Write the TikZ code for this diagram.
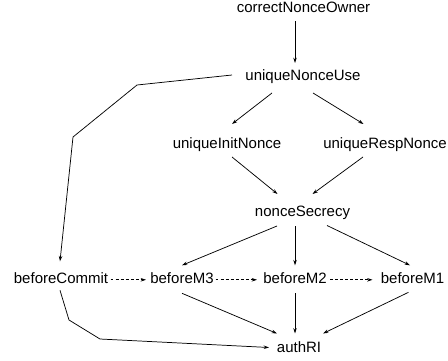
\documentclass[tikz,border=0pt]{standalone}
\usepackage{fontspec}
\setmainfont{Liberation Sans}
\usetikzlibrary{arrows.meta,calc}
\begin{document}
\begin{tikzpicture}[x=0.75pt,y=-0.75pt,
  lbl/.style={anchor=base,inner sep=0pt,font=\fontsize{11.25}{13}\selectfont},
  edge/.style={line width=0.55pt,-{Stealth[length=4pt,width=2.6pt]}},
  dedge/.style={edge,dash pattern=on 2.2pt off 1.6pt}]
\useasboundingbox (0,0) rectangle (448,360);
\node[lbl] (cno) at (303.5,12.7) {correctNonceOwner};
\node[lbl] (unu) at (303,80) {uniqueNonceUse};
\node[lbl] (uin) at (227,148) {uniqueInitNonce};
\node[lbl] (urn) at (385,148) {uniqueRespNonce};
\node[lbl] (nss) at (302.5,216) {nonceSecrecy};
\node[lbl] (bc) at (61,283.3) {beforeCommit};
\node[lbl] (b3) at (182,283.3) {beforeM3};
\node[lbl] (b2) at (295,283.3) {beforeM2};
\node[lbl] (b1) at (412.5,283.3) {beforeM1};
\node[lbl] (ar) at (299,352) {authRI};
% solid edges
\draw[edge] ($(cno.base)+(-8.5,8.5)$) -- ($(unu.base)+(-8,-17)$);
\draw[edge] ($(unu.base)+(-31,13)$) -- ($(uin.base)+(5,-24)$);
\draw[edge] ($(unu.base)+(10,13)$) -- ($(urn.base)+(-21.5,-24)$);
\draw[edge] ($(uin.base)+(5,9)$) -- ($(nss.base)+(-25,-22)$);
\draw[edge] ($(urn.base)+(-22,9)$) -- ($(nss.base)+(10,-22)$);
\draw[edge] ($(nss.base)+(-25.5,10)$) -- ($(b3.base)+(0,-18)$);
\draw[edge] ($(nss.base)+(-7.5,10)$) -- ($(b2.base)+(0,-18)$);
\draw[edge] ($(nss.base)+(24.5,9.5)$) -- ($(b1.base)+(-2.5,-18)$);
\draw[edge] ($(b3.base)+(0,10)$) -- ($(ar.base)+(-22,-18.5)$);
\draw[edge] ($(b2.base)+(0,10)$) -- ($(ar.base)+(-4,-18.5)$);
\draw[edge] ($(b1.base)+(-4,9)$) -- ($(ar.base)+(24,-18.5)$);
\draw[edge] ($(unu.base)+(-71,-5)$) -- (137,85) -- (73,137) -- ($(bc.base)+(-1,-22)$);
\draw[edge] ($(bc.base)+(-1,7)$) -- (69,320) -- (100,339) -- ($(ar.base)+(-30,-4.5)$);
% dashed edges
\draw[dedge] ($(bc.base)+(49.5,-3.5)$) -- ($(b3.base)+(-36,-3.5)$);
\draw[dedge] ($(b3.base)+(33.5,-3.5)$) -- ($(b2.base)+(-38,-3.5)$);
\draw[dedge] ($(b2.base)+(35,-3.5)$) -- ($(b1.base)+(-40,-3.5)$);
\end{tikzpicture}
\end{document}
